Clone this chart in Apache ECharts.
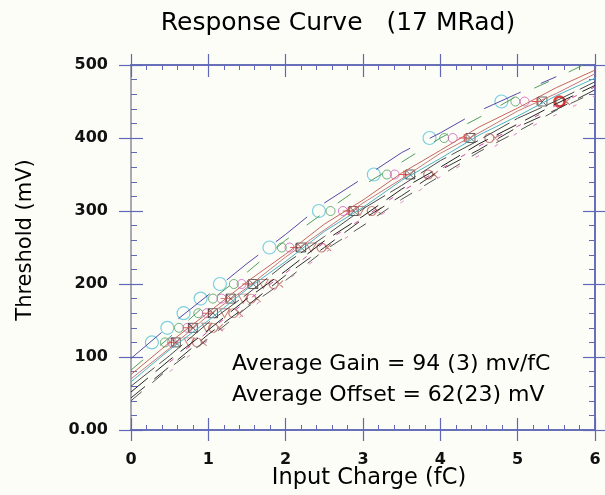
<!DOCTYPE html>
<html><head><meta charset="utf-8">
<script src="https://cdn.jsdelivr.net/npm/echarts@6/dist/echarts.min.js"></script>
<style>html,body{margin:0;padding:0;background:#fdfdf8}#c{width:605px;height:495px}</style>
</head><body><div id="c"></div>
<script>
// ---- data ----
const chargeSamples = [0, 0.5, 1, 1.5, 2, 2.5, 3, 3.5, 4, 4.5, 5, 5.5, 6];
const curveBlue     = [98, 143, 185, 228, 268, 311, 345, 380, 407, 437, 461, 484, null];
const curveGreen    = [82, 127, 175, 216, 260, 298, 335, 367, 400, 428, 458, 482, 508];
const curveRedA     = [76, 120, 161, 203, 241, 282, 315, 352, 383, 415, 441, 469, 493];
const curveRedB     = [70, 112, 157, 195, 237, 274, 311, 344, 379, 407, 437, 461, 488];
const curveCyan     = [66, 110, 150, 193, 231, 272, 305, 342, 372, 404, 430, 458, 482];
const curveDarkGray = [60, 102, 147, 186, 228, 265, 303, 335, 369, 397, 427, 451, 477];
const curveBlackA   = [52, 96, 137, 180, 218, 259, 293, 330, 360, 392, 419, 447, 472];
const curveBlackB   = [44, 87, 131, 170, 212, 250, 289, 321, 356, 384, 415, 439, 466];
const curveMagenta  = [null, 93, 135, 177, 215, 257, 290, 327, 357, 389, 416, 445, 470];
const curvePink     = [null, 80, 123, 162, 204, 242, 280, 312, 347, 376, 407, 432, 458];
const curveGray     = [40, 85, 125, 168, 205, 246, 280, 316, 348, 381, 409, 438, 463];

const thresholdLevels = [120, 140, 160, 180, 200, 250, 300, 350, 400, 450];
const cyanCharge     = [0.27, 0.47, 0.68, 0.90, 1.15, 1.79, 2.43, 3.14, 3.86, 4.79];
const greenCharge    = [0.44, 0.62, 0.87, 1.06, 1.33, 1.95, 2.58, 3.31, 4.05, 4.97];
const magentaCharge  = [0.53, 0.73, 0.98, 1.17, 1.43, 2.05, 2.74, 3.41, 4.16, 5.09];
const plusCharge     = [0.55, 0.75, 1.00, 1.23, 1.51, 2.13, 2.81, 3.53, 4.31, 5.25];
const squareCharge   = [0.58, 0.80, 1.06, 1.29, 1.58, 2.20, 2.88, 3.61, 4.39, 5.32];
const triangleCharge = [0.75, 0.98, 1.21, 1.45, 1.71, 2.33, 2.96];
const crossCircleCharge = [0.86, 1.07, 1.33, 1.56, 1.85, 2.47, 3.12, 3.85, 4.64, 5.56];
const boldPointCharge = [5.54];
const boldPointLevel  = [450];

const xTickValues = [0, 1, 2, 3, 4, 5, 6];
const yTickLabels = ['0.00', '100', '200', '300', '400', '500'];

const titleText = 'Response Curve   (17 MRad)';
const xName = 'Input Charge (fC)';
const yName = 'Threshold (mV)';
const noteLines = ['Average Gain = 94 (3) mv/fC', 'Average Offset = 62(23) mV'];

// ---- styles ----
const AX = '#5f67b6';
const curves = [
  {v: curveBlue, c: '#5248a8', t: [40, 22]},
  {v: curveGreen, c: '#4f9d5e', t: [16, 22]},
  {v: curveRedA, c: '#c4665e', t: 'solid'},
  {v: curveRedB, c: '#c87878', t: 'solid'},
  {v: curveCyan, c: '#4cb3c6', t: 'solid'},
  {v: curveDarkGray, c: '#4a4a4a', t: [30, 6]},
  {v: curveBlackA, c: '#222222', t: [22, 10]},
  {v: curveBlackB, c: '#333333', t: [18, 12]},
  {v: curveMagenta, c: '#d048a8', t: [5, 16]},
  {v: curvePink, c: '#e08ac8', t: [4, 18]},
  {v: curveGray, c: '#555555', t: [14, 14]}
];

const series = [];
curves.forEach(cv => {
  series.push({
    type: 'line', xAxisIndex: 0, yAxisIndex: 0, showSymbol: false, silent: true,
    data: chargeSamples.map((x, i) => [x, cv.v[i]]),
    lineStyle: {color: cv.c, width: 1, type: cv.t}, connectNulls: false
  });
});
function pts(xs, ys) { return xs.map((x, i) => [x, ys[i]]); }
const hollow = (c, w) => ({color: 'rgba(0,0,0,0)', borderColor: c, borderWidth: w || 1});
series.push({type: 'scatter', silent: true, symbol: 'circle', symbolSize: 13, data: pts(cyanCharge, thresholdLevels), itemStyle: hollow('#5cc3d8', 1.2)});
series.push({type: 'scatter', silent: true, symbol: 'circle', symbolSize: 9, data: pts(greenCharge, thresholdLevels), itemStyle: hollow('#4f9d5e')});
series.push({type: 'scatter', silent: true, symbol: 'circle', symbolSize: 9, data: pts(magentaCharge, thresholdLevels), itemStyle: hollow('#cf5cc0')});
series.push({type: 'scatter', silent: true, symbol: 'path://M0,5L12,5M6,0L6,10', symbolSize: [11, 8], data: pts(plusCharge, thresholdLevels), itemStyle: hollow('#d03030')});
series.push({type: 'scatter', silent: true, symbol: 'path://M0,0L10,0L10,10L0,10ZM0,0L10,10M10,0L0,10', symbolSize: 9, data: pts(squareCharge, thresholdLevels), itemStyle: hollow('#3c3c3c')});
series.push({type: 'scatter', silent: true, symbol: 'path://M0,0L10,0L5,9Z', symbolSize: [10, 9], data: pts(triangleCharge, thresholdLevels), itemStyle: hollow('#c0605a')});
series.push({type: 'scatter', silent: true, symbol: 'path://M0.5,5A4.5,4.5,0,1,1,9.5,5A4.5,4.5,0,1,1,0.5,5ZM7.5,1.5L14.5,8.5M7.5,8.5L14.5,1.5', symbolSize: [14, 9], symbolOffset: [2, 0], data: pts(crossCircleCharge, thresholdLevels), itemStyle: hollow('#b8605a')});
series.push({type: 'scatter', silent: true, symbol: 'circle', symbolSize: 10, data: pts(boldPointCharge, boldPointLevel), itemStyle: hollow('#d81818', 2.6)});

const labelFont = {fontFamily: 'DejaVu Sans', fontWeight: 'bold', fontSize: 16, color: '#111'};
function xAx(pos, inside, main) {
  return {
    type: 'value', position: pos, min: 0, max: 6, interval: 1,
    axisLine: {show: true, onZero: false, lineStyle: {color: AX, width: 1.5}},
    axisTick: {show: true, inside: inside, length: inside ? 12 : 11, lineStyle: {color: AX, width: 1.2}},
    minorTick: {show: inside, splitNumber: 5, length: 5, lineStyle: {color: AX, width: 1}},
    splitLine: {show: false}, minorSplitLine: {show: false},
    axisLabel: main ? Object.assign({show: true, margin: 22, formatter: v => String(xTickValues[Math.round(v)])}, labelFont) : {show: false}
  };
}
function yAx(pos, inside, main) {
  return {
    type: 'value', position: pos, min: 0, max: 500, interval: 100,
    axisLine: {show: true, onZero: false, lineStyle: {color: pos === 'left' ? '#a9a9b4' : AX, width: pos === 'left' ? 2 : 1.5}},
    axisTick: {show: true, inside: inside, length: inside ? 12 : 12, lineStyle: {color: AX, width: 1.2}},
    minorTick: {show: inside, splitNumber: 5, length: 6, lineStyle: {color: AX, width: 1}},
    splitLine: {show: false}, minorSplitLine: {show: false},
    axisLabel: main ? Object.assign({show: true, margin: 23, formatter: v => yTickLabels[Math.round(v / 100)]}, labelFont) : {show: false}
  };
}

const txt = (x, y, s, size, extra) => Object.assign({
  type: 'text', x: x, y: y, silent: true,
  style: Object.assign({text: s, font: size + 'px "DejaVu Sans"', fill: '#000', align: 'center', verticalAlign: 'middle', textAlign: 'center', textVerticalAlign: 'middle'}, extra || {})
}, {});

const chart = echarts.init(document.getElementById('c'), null, {renderer: 'canvas'});
chart.setOption({
  animation: false,
  backgroundColor: '#fdfdf8',
  grid: {left: 131, right: 10, top: 65, bottom: 65, containLabel: false},
  xAxis: [xAx('bottom', true, true), xAx('bottom', false, false), xAx('top', true, false), xAx('top', false, false)],
  yAxis: [yAx('left', true, true), yAx('left', false, false), yAx('right', true, false), yAx('right', false, false)],
  graphic: [
    txt(338, 23, titleText, 25),
    txt(369, 478, xName, 22.5),
    Object.assign(txt(26, 240, yName, 21), {rotation: Math.PI / 2}),
    txt(232, 364, noteLines[0], 22, {align: 'left', textAlign: 'left'}),
    txt(232, 395, noteLines[1], 22, {align: 'left', textAlign: 'left'})
  ],
  series: series
});
</script></body></html>
